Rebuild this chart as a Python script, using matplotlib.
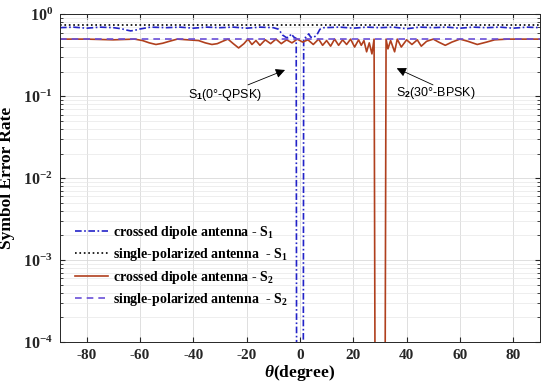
import numpy as np
import matplotlib
matplotlib.use('Agg')
import matplotlib.pyplot as plt

plt.rcParams['font.family'] = 'Liberation Serif'
plt.rcParams['font.weight'] = 'bold'
plt.rcParams['mathtext.fontset'] = 'custom'
plt.rcParams['mathtext.rm'] = 'Liberation Serif:bold'
plt.rcParams['mathtext.bf'] = 'Liberation Serif:bold'
plt.rcParams['mathtext.it'] = 'Liberation Serif:italic'
plt.rcParams['mathtext.sf'] = 'Liberation Sans'

# crossed dipole antenna - S1 (signal at 0 deg)
theta_c1 = [-90, -85, -80, -75, -70, -67, -65, -63.5, -62, -60, -56, -50, -45, -40, -35, -30,
            -25, -20, -15, -10, -8, -6.5, -5, -4, -3.3, -2.3, -1.4, -1.2, 1.2, 1.4,
            2.3, 3.3, 4, 5, 6.3, 7.5, 9, 15, 20, 25, 30, 35, 40, 45, 50, 55, 60,
            65, 70, 75, 80, 85, 90]
ser_c1 = [0.69, 0.70, 0.68, 0.70, 0.69, 0.67, 0.645, 0.63, 0.64, 0.665, 0.70, 0.69, 0.70, 0.68, 0.70, 0.69,
          0.70, 0.68, 0.70, 0.69, 0.66, 0.56, 0.52, 0.53, 0.58, 0.53, 0.51, 1e-6, 1e-6, 0.51,
          0.53, 0.58, 0.53, 0.52, 0.56, 0.66, 0.69, 0.70, 0.68, 0.70, 0.69, 0.70, 0.67, 0.70, 0.69, 0.70, 0.68,
          0.70, 0.69, 0.70, 0.68, 0.70, 0.69]

# single-polarized antenna - S1
theta_s1 = [-90, 90]
ser_s1 = [0.75, 0.75]

# crossed dipole antenna - S2 (signal at 30 deg)
theta_c2 = [-90, -80, -70, -62, -59, -56.5, -54, -51.5, -49, -46, -42, -38, -35.5, -33, -31, -29, -27,
            -25, -23, -21, -19.5, -18, -16.5, -15, -13, -11, -9, -7, -5, -3, -1,
            1, 3, 5, 7, 8.5, 10, 11.5, 13, 14.5, 16, 17.5, 19, 20.5, 22, 23, 24,
            25, 26, 27, 27.8, 28.3, 31.8, 32.3, 33, 34, 35.5, 36.5, 38, 40, 42,
            44, 45.5, 47.5, 50, 52, 54.5, 57, 60, 63, 66.5, 70, 73, 78, 90]
ser_c2 = [0.50, 0.50, 0.49, 0.50, 0.48, 0.45, 0.43, 0.445, 0.47, 0.50, 0.49, 0.48, 0.45, 0.43, 0.44, 0.47, 0.50,
          0.44, 0.39, 0.44, 0.50, 0.43, 0.48, 0.42, 0.49, 0.44, 0.50, 0.44, 0.49, 0.45, 0.50,
          0.46, 0.49, 0.43, 0.50, 0.42, 0.48, 0.41, 0.50, 0.42, 0.49, 0.43, 0.50, 0.40, 0.49, 0.42, 0.48,
          0.35, 0.45, 0.33, 0.50, 1e-6, 1e-6, 0.50, 0.38, 0.48, 0.35, 0.50, 0.40, 0.49, 0.43,
          0.49, 0.41, 0.47, 0.50, 0.46, 0.42, 0.46, 0.50, 0.47, 0.43, 0.46, 0.49, 0.50, 0.50]

# single-polarized antenna - S2
theta_s2 = [-90, 90]
ser_s2 = [0.50, 0.50]

xticks = [-80, -60, -40, -20, 0, 20, 40, 60, 80]
yticks = [1e-4, 1e-3, 1e-2, 1e-1, 1e0]
ytick_labels = [r'$\mathbf{10^{-4}}$', r'$\mathbf{10^{-3}}$', r'$\mathbf{10^{-2}}$',
                r'$\mathbf{10^{-1}}$', r'$\mathbf{10^{0}}$']

fig = plt.figure(figsize=(5.5, 3.92), dpi=100)
ax = fig.add_axes([0.109, 0.1276, 0.8727, 0.8355])

ax.plot(theta_c1, ser_c1, color='#2323c8', linewidth=1.2, dashes=(4, 1.5, 1, 1.5),
        label=r'crossed dipole antenna - $\mathbf{S_1}$')
ax.plot(theta_s1, ser_s1, color='black', linewidth=1.2, linestyle=':',
        label=r'single-polarized antenna  - $\mathbf{S_1}$')
ax.plot(theta_c2, ser_c2, color='#b0401e', linewidth=1.2, linestyle='-',
        label=r'crossed dipole antenna - $\mathbf{S_2}$')
ax.plot(theta_s2, ser_s2, color='#6a4fd8', linewidth=1.2, dashes=(4, 3),
        label=r'single-polarized antenna  - $\mathbf{S_2}$')

ax.set_yscale('log')
ax.set_xlim(-90, 90)
ax.set_ylim(1e-4, 1)
ax.set_xticks(xticks)
ax.set_xticklabels([str(t) for t in xticks], fontsize=11, fontweight='bold')
ax.set_yticks(yticks)
ax.set_yticklabels(ytick_labels, fontsize=11.5)

ax.grid(True, which='major', color='#d9d9d9', linewidth=0.6)
ax.grid(True, which='minor', axis='y', color='#e8e8e8', linewidth=0.5)
ax.tick_params(which='both', direction='in', top=True, right=True, colors='#262626')
ax.tick_params(which='major', length=3.5, pad=5)
ax.tick_params(which='minor', length=2)
for s in ax.spines.values():
    s.set_color('#262626')
    s.set_linewidth(0.7)

ax.set_ylabel('Symbol Error Rate', fontsize=12.5, fontweight='bold', labelpad=6)
ax.set_xlabel(r'$\it{\theta}$(degree)', fontsize=12.5, fontweight='bold', labelpad=1)

arrow = dict(arrowstyle='-|>', color='black', lw=0.6, mutation_scale=14, shrinkA=0, shrinkB=0)
ax.text(-28, 0.104, 'S$_{\\mathsf{1}}$(0°-QPSK)', fontsize=9, fontweight='normal',
        family='Liberation Sans', ha='center', va='center')
ax.annotate('', xy=(-5.6, 0.21), xytext=(-19.5, 0.138), arrowprops=arrow)
ax.text(51, 0.11, 'S$_{\\mathsf{2}}$(30°-BPSK)', fontsize=9, fontweight='normal',
        family='Liberation Sans', ha='center', va='center')
ax.annotate('', xy=(36.3, 0.22), xytext=(49.9, 0.138), arrowprops=arrow)

ax.legend(loc='upper left', bbox_to_anchor=(0.031, 0.36), frameon=False, fontsize=10,
          borderpad=0, borderaxespad=0, handlelength=2.4, handletextpad=0.35,
          labelspacing=0.38)

fig.savefig('out.png', dpi=100)
